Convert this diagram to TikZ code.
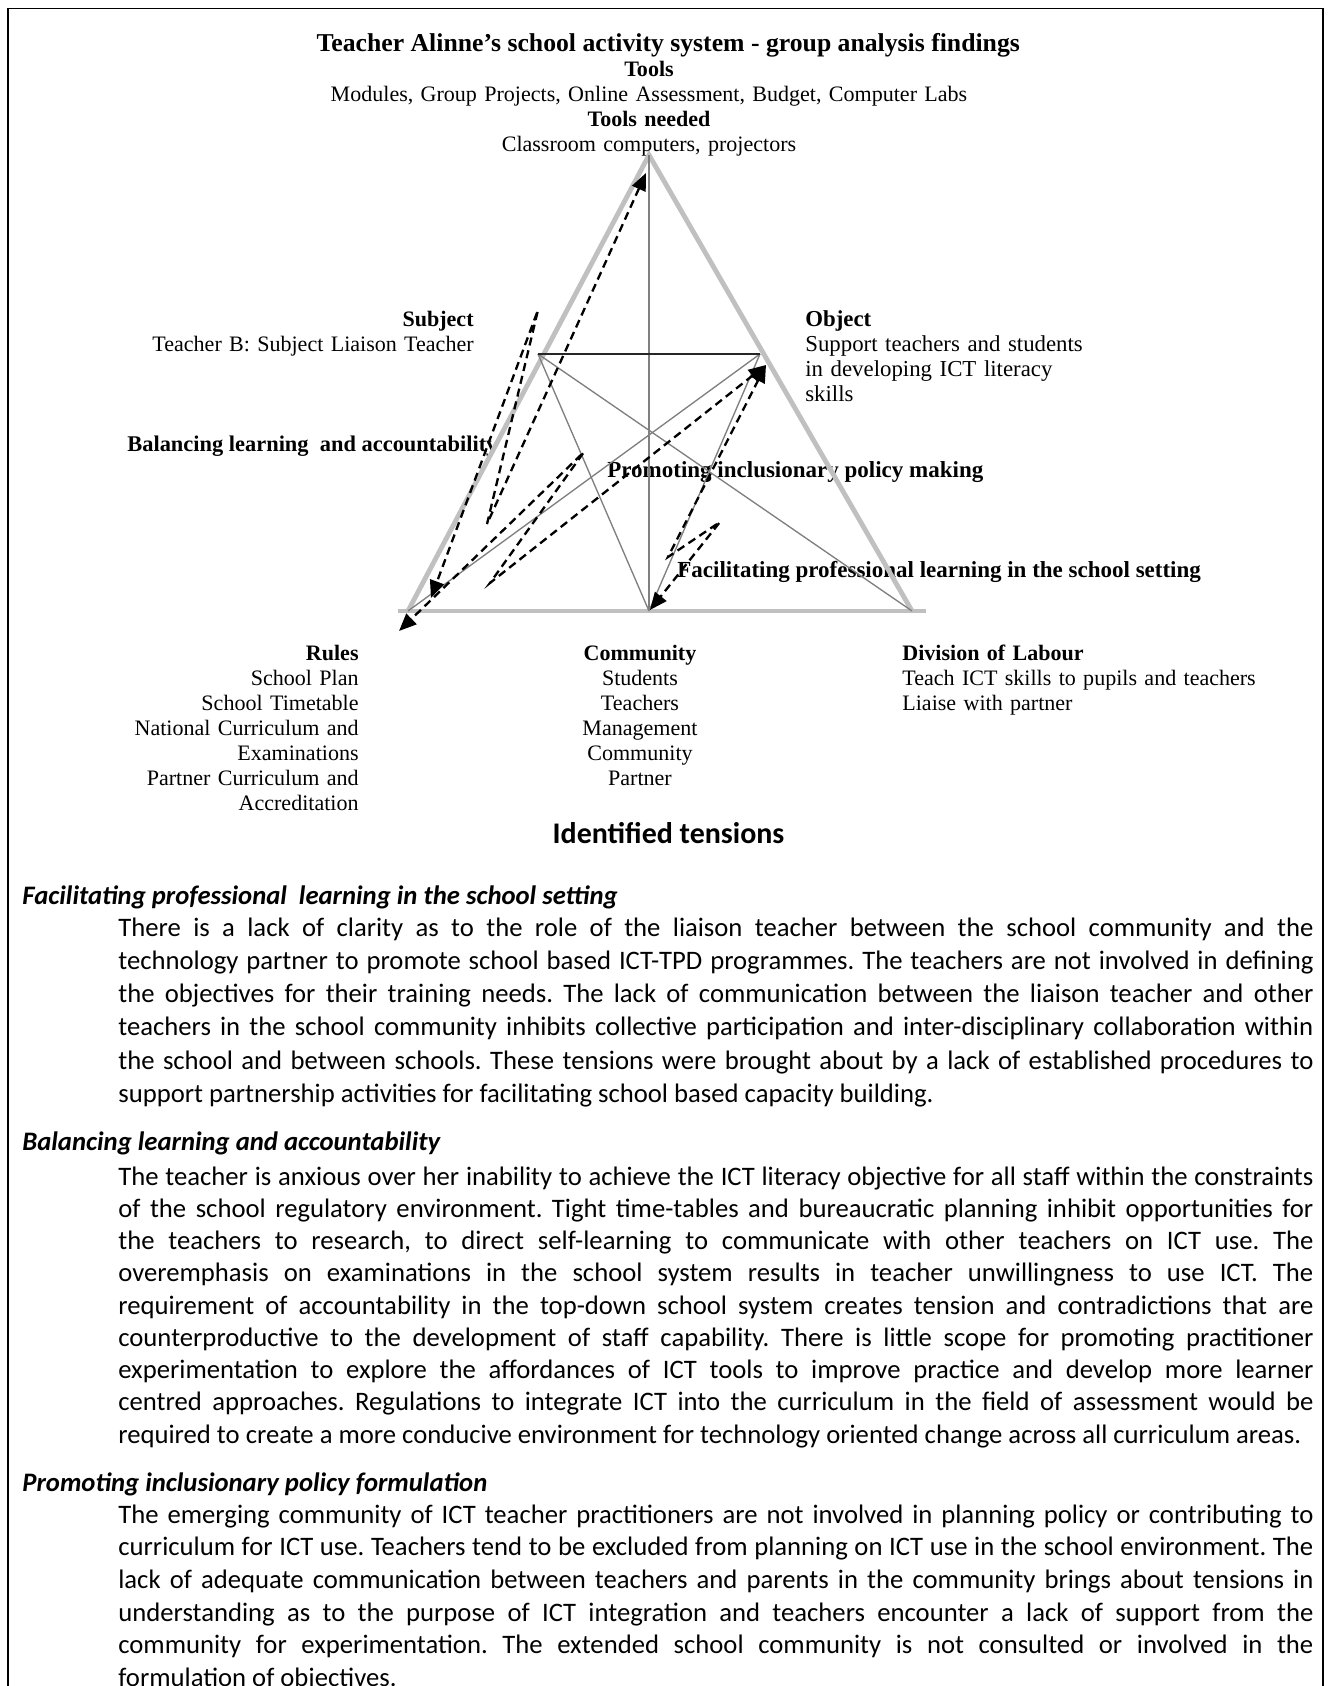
\documentclass[tikz,border=0pt]{standalone}
\usepackage{fontspec}
\setmainfont{Carlito}
\newfontfamily\diagfont{Liberation Serif}
\usetikzlibrary{arrows.meta}
\definecolor{edgegray}{RGB}{192,192,192}
\definecolor{spokegray}{RGB}{128,128,128}
\hyphenpenalty=10000
\exhyphenpenalty=10000
\frenchspacing
\tikzset{
  diag/.style={font=\diagfont\fontsize{11.4}{12.9}\selectfont, inner sep=0pt},
  diagbold/.style={font=\diagfont\bfseries\fontsize{11.9}{12.9}\selectfont, inner sep=0pt},
  edge/.style={edgegray, line width=2.5pt},
  spoke/.style={spokegray, line width=0.7pt},
  bolt/.style={<->, >={Triangle[length=9pt,width=7.5pt]}, line width=1.2pt, dash pattern=on 4.2pt off 2.6pt},
  heading/.style={font=\bfseries\itshape\fontsize{13.8}{16.7}\selectfont, inner sep=0pt, anchor=base west},
  body/.style={font=\fontsize{13.8}{#1}\selectfont, inner sep=0pt, text width=21.73cm, align=justify, anchor=base west}
}

\begin{document}
\begin{tikzpicture}
\useasboundingbox (0,0) rectangle (24.2,30.6545);
%\draw [lightgray, ultra thin] (0,0) grid (24,30);

\draw [line width=1pt] (0.15,-0.2) -- (0.15,30.5) -- (24.05,30.5) -- (24.05,-0.2);

\node [diagbold, font=\diagfont\bfseries\fontsize{13.3}{14}\selectfont, anchor=base] (title) at (12.15,29.72) {Teacher Alinne’s school activity system - group analysis findings};
\node [diag, anchor=base, text width=14cm, align=center] (toolsText) at (11.8,29.258) {\textbf{Tools}\\ Modules, Group Projects, Online Assessment, Budget, Computer Labs\\ \textbf{Tools needed}\\ Classroom computers, projectors};
\node [diag, anchor=base east, text width=7cm, align=right] (subjText) at (8.618,24.713) {\textbf{Subject}\\ Teacher B: Subject Liaison Teacher};
\node [diag, font=\diagfont\fontsize{11.8}{12.9}\selectfont, anchor=base west, text width=6cm, align=left] (objText) at (14.636,24.713) {\textbf{Object}\\ Support teachers and students\\ in developing ICT literacy\\ skills};
\node [diag, anchor=base east, text width=5cm, align=right] (rulesText) at (6.527,18.64) {\textbf{Rules}\\ School Plan\\ School Timetable\\ National Curriculum and\\ Examinations\\ Partner Curriculum and\\ Accreditation};
\node [diag, anchor=base, text width=4cm, align=center] (commText) at (11.636,18.64) {\textbf{Community}\\ Students\\ Teachers\\ Management\\ Community\\ Partner};
\node [diag, anchor=base west, text width=7cm, align=left] (divText) at (16.4,18.64) {\textbf{Division of Labour}\\ Teach ICT skills to pupils and teachers\\ Liaise with partner};

\begin{scope}
\clip (0,21.8) rectangle (8.93,23.2);
\node [diagbold, font=\diagfont\bfseries\fontsize{11.6}{12.9}\selectfont, anchor=base west] (balLabel) at (2.309,22.44) {Balancing learning\ \ and accountability};
\end{scope}
\node [diagbold, anchor=base west] (proLabel) at (11.036,21.967) {Promoting inclusionary policy making};
\node [diagbold, anchor=base west] (facLabel) at (12.309,20.149) {Facilitating professional learning in the school setting};

\coordinate (tools) at (11.8,27.836);
\coordinate (rules) at (7.418,19.545);
\coordinate (comm) at (11.8,19.545);
\coordinate (divl) at (16.582,19.545);
\coordinate (subj) at (9.782,24.218);
\coordinate (obj) at (13.818,24.218);
\coordinate (baseW) at (7.236,19.545);
\coordinate (baseE) at (16.836,19.545);

\draw [edge] (rules) -- (tools) -- (divl);
\draw [edge] (baseW) -- (baseE);
\draw [spoke] (tools) -- (comm);
\draw [spoke] (subj) -- (divl);
\draw [spoke] (subj) -- (comm);
\draw [spoke] (obj) -- (rules);
\draw [spoke] (obj) -- (comm);
\draw [line width=0.8pt, black!85] (subj) -- (obj);

\coordinate (toolsTip) at (11.745,27.509);
\coordinate (bal1) at (8.855,21.127);
\coordinate (bal2) at (9.782,25.018);
\coordinate (rulesTipA) at (7.836,19.782);
\coordinate (objTip) at (13.927,24.018);
\coordinate (pro1) at (8.909,20.055);
\coordinate (pro2) at (10.618,22.436);
\coordinate (rulesTipB) at (7.255,19.182);
\coordinate (fac1) at (12.145,20.527);
\coordinate (fac2) at (13.091,21.164);
\coordinate (commTip) at (11.818,19.564);

\draw [bolt] (toolsTip) -- (bal1) -- (bal2) -- (rulesTipA);
\draw [bolt] (objTip) -- (pro1) -- (pro2) -- (rulesTipB);
\draw [bolt] (objTip) -- (fac1) -- (fac2) -- (commTip);

\node [font=\bfseries\fontsize{15.5}{18}\selectfont, inner sep=0pt, anchor=base] (tensions) at (12.155,15.324) {Identified tensions};

\node [heading] (head1) at (0.4,14.2) {Facilitating professional\ \ learning in the school setting};
\node [body=17.2pt] (para1) at (2.145,13.636) {\sloppy There is a lack of clarity as to the role of the liaison teacher between the school community and the\linebreak
technology partner to promote school based ICT-TPD programmes. The teachers are not involved in defining\linebreak
the objectives for their training needs. The lack of communication between the liaison teacher and other\linebreak
teachers in the school community inhibits collective participation and inter-disciplinary collaboration within\linebreak
the school and between schools. These tensions were brought about by a lack of established procedures to\linebreak
support partnership activities for facilitating school based capacity building.};

\node [heading] (head2) at (0.4,9.733) {Balancing learning and accountability};
\node [body=16.7pt] (para2) at (2.145,9.109) {\sloppy\parfillskip=0pt The teacher is anxious over her inability to achieve the ICT literacy objective for all staff within the constraints\linebreak
of the school regulatory environment. Tight time-tables and bureaucratic planning inhibit opportunities for\linebreak
the teachers to research, to direct self-learning to communicate with other teachers on ICT use. The\linebreak
overemphasis on examinations in the school system results in teacher unwillingness to use ICT. The\linebreak
requirement of accountability in the top-down school system creates tension and contradictions that are\linebreak
counterproductive to the development of staff capability. There is little scope for promoting practitioner\linebreak
experimentation to explore the affordances of ICT tools to improve practice and develop more learner\linebreak
centred approaches. Regulations to integrate ICT into the curriculum in the field of assessment would be\linebreak
required to create a more conducive environment for technology oriented change across all curriculum areas.};

\node [heading] (head3) at (0.4,3.533) {Promoting inclusionary policy formulation};
\node [body=16.9pt] (para3) at (2.145,2.958) {\sloppy The emerging community of ICT teacher practitioners are not involved in planning policy or contributing to\linebreak
curriculum for ICT use. Teachers tend to be excluded from planning on ICT use in the school environment. The\linebreak
lack of adequate communication between teachers and parents in the community brings about tensions in\linebreak
understanding as to the purpose of ICT integration and teachers encounter a lack of support from the\linebreak
community for experimentation. The extended school community is not consulted or involved in the\linebreak
formulation of objectives.};
\end{tikzpicture}
\end{document}
